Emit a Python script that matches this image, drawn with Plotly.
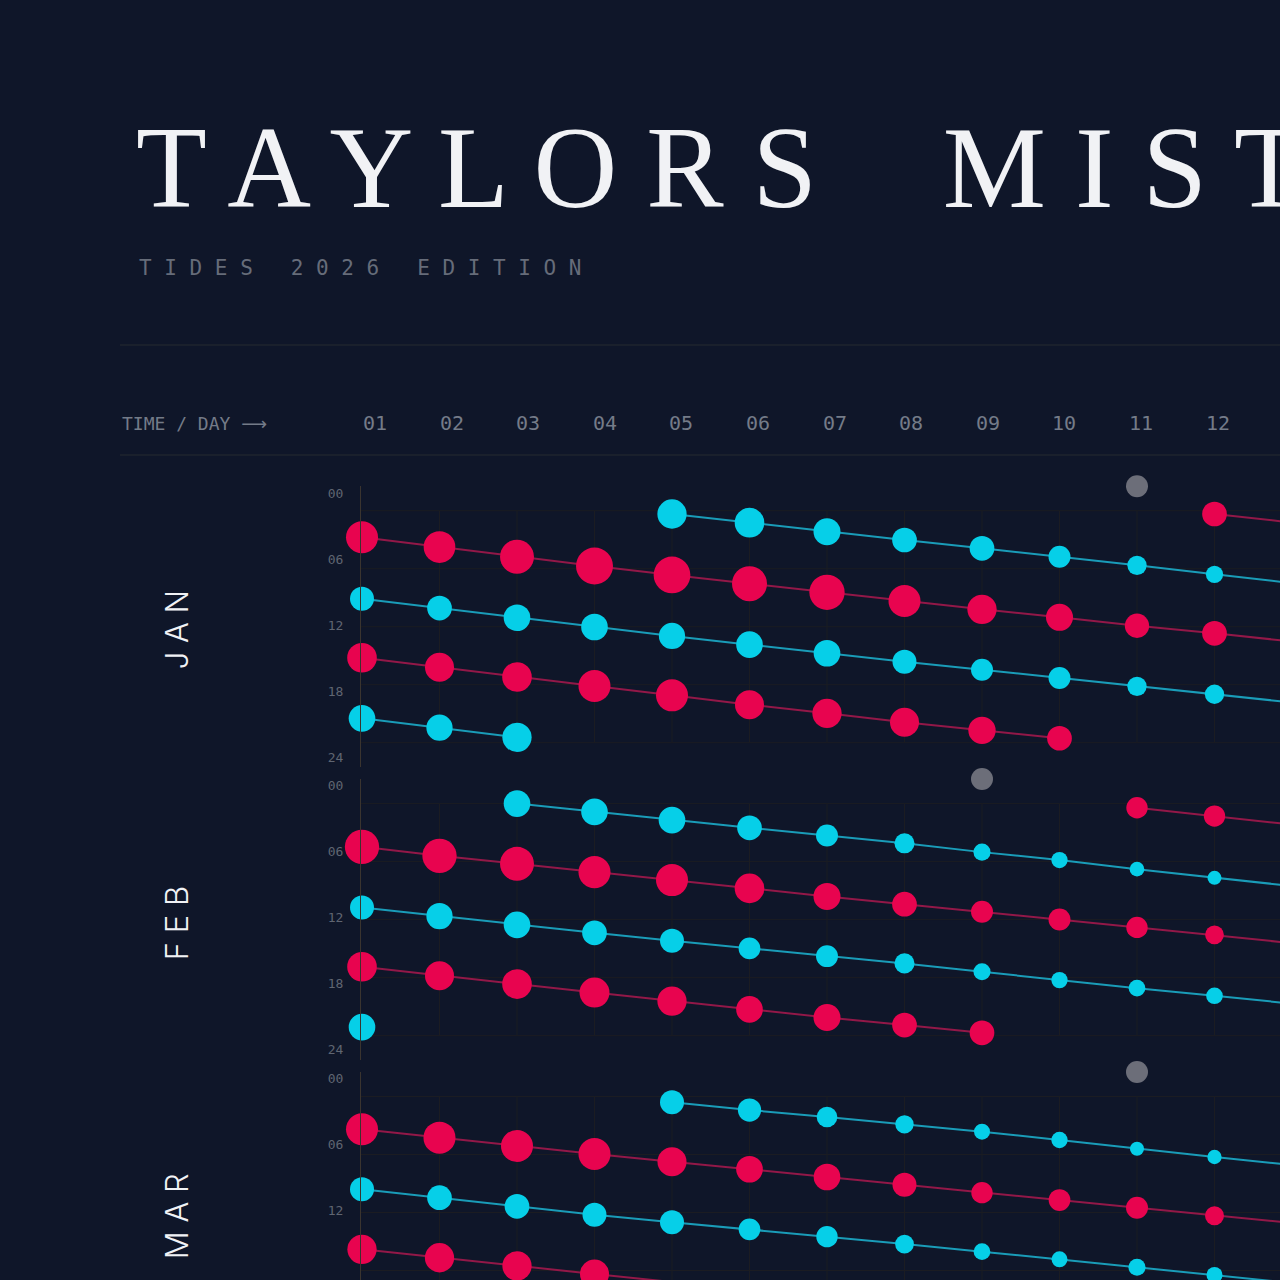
import plotly.graph_objects as go

# ---------------------------------------------------------------- data
MONTHS = ["JAN", "FEB", "MAR"]
DAY_LABELS = [f"{d:02d}" for d in range(1, 13)]
HOUR_TICKS = [0, 6, 12, 18, 24]
HOUR_LABELS = ["00", "06", "12", "18", "24"]
MOON_DAY = [11, 9, 11]          # day of the month carrying the moon marker

# tide times are decimal hours of the day, amplitudes in metres (marker size)
# ---- January
JAN_HIGH_A_START = 1
JAN_HIGH_A_TIME = [2.75, 3.76, 4.76, 5.72, 6.65, 7.55, 8.44, 9.34, 10.20, 11.03, 11.90, 12.68, 13.53]
JAN_HIGH_A_AMP = [2.67, 2.64, 2.83, 3.08, 3.06, 2.92, 2.94, 2.67, 2.44, 2.25, 2.03, 2.06, 2.00]
JAN_LOW_B_START = 1
JAN_LOW_B_TIME = [9.10, 10.07, 11.07, 12.03, 12.96, 13.86, 14.75, 15.62, 16.45, 17.31, 18.17, 18.99, 19.84]
JAN_LOW_B_AMP = [2.00, 2.06, 2.22, 2.22, 2.19, 2.22, 2.22, 2.00, 1.83, 1.83, 1.61, 1.61, 1.50]
JAN_HIGH_C_START = 1
JAN_HIGH_C_TIME = [15.21, 16.20, 17.20, 18.13, 19.10, 20.07, 20.96, 21.89, 22.72, 23.54]
JAN_HIGH_C_AMP = [2.47, 2.42, 2.47, 2.67, 2.67, 2.42, 2.44, 2.42, 2.28, 2.06]
JAN_LOW_D_START = 1
JAN_LOW_D_TIME = [21.48, 22.45, 23.44]
JAN_LOW_D_AMP = [2.22, 2.19, 2.44]
JAN_LOW_E_START = 5
JAN_LOW_E_TIME = [0.34, 1.24, 2.17, 3.03, 3.89, 4.76, 5.65, 6.58, 7.48]
JAN_LOW_E_AMP = [2.44, 2.47, 2.25, 2.06, 2.06, 1.83, 1.61, 1.44, 1.33]
JAN_HIGH_F_START = 12
JAN_HIGH_F_TIME = [0.34, 1.22]
JAN_HIGH_F_AMP = [2.06, 2.00]

# ---- February
FEB_HIGH_A_START = 1
FEB_HIGH_A_TIME = [4.47, 5.40, 6.23, 7.09, 7.91, 8.77, 9.60, 10.40, 11.19, 11.98, 12.81, 13.57, 14.43]
FEB_HIGH_A_AMP = [2.86, 2.86, 2.83, 2.67, 2.67, 2.47, 2.25, 2.06, 1.83, 1.83, 1.78, 1.56, 1.56]
FEB_LOW_B_START = 1
FEB_LOW_B_TIME = [10.74, 11.64, 12.54, 13.37, 14.19, 14.98, 15.78, 16.53, 17.40, 18.26, 19.09, 19.88, 20.69]
FEB_LOW_B_AMP = [2.00, 2.19, 2.22, 2.06, 2.00, 1.81, 1.83, 1.67, 1.42, 1.36, 1.39, 1.39, 1.39]
FEB_HIGH_C_START = 1
FEB_HIGH_C_TIME = [16.88, 17.81, 18.67, 19.55, 20.43, 21.29, 22.12, 22.91, 23.71]
FEB_HIGH_C_AMP = [2.47, 2.42, 2.47, 2.50, 2.44, 2.22, 2.25, 2.06, 2.06]
FEB_LOW_D_START = 1
FEB_LOW_D_TIME = [23.12]
FEB_LOW_D_AMP = [2.22]
FEB_LOW_E_START = 3
FEB_LOW_E_TIME = [0.00, 0.85, 1.71, 2.50, 3.29, 4.11, 5.02, 5.84, 6.78, 7.68, 8.53]
FEB_LOW_E_AMP = [2.22, 2.22, 2.22, 2.06, 1.83, 1.67, 1.42, 1.36, 1.22, 1.17, 1.17]
FEB_HIGH_F_START = 11
FEB_HIGH_F_TIME = [0.43, 1.29, 2.17]
FEB_HIGH_F_AMP = [1.78, 1.78, 1.75]

# ---- March
MAR_HIGH_A_START = 1
MAR_HIGH_A_TIME = [3.39, 4.26, 5.12, 5.95, 6.74, 7.53, 8.33, 9.12, 9.95, 10.71, 11.50, 12.33, 13.09]
MAR_HIGH_A_AMP = [2.67, 2.67, 2.67, 2.67, 2.42, 2.22, 2.22, 2.00, 1.78, 1.81, 1.83, 1.58, 1.58]
MAR_LOW_B_START = 1
MAR_LOW_B_TIME = [9.60, 10.47, 11.36, 12.23, 13.01, 13.74, 14.50, 15.26, 16.05, 16.84, 17.67, 18.46, 19.29]
MAR_LOW_B_AMP = [2.00, 2.06, 2.06, 2.00, 2.00, 1.81, 1.78, 1.56, 1.39, 1.33, 1.42, 1.33, 1.33]
MAR_HIGH_C_START = 1
MAR_HIGH_C_TIME = [15.81, 16.68, 17.53, 18.36, 19.19, 20.02]
MAR_HIGH_C_AMP = [2.44, 2.44, 2.44, 2.42, 2.33, 2.25]
MAR_LOW_E_START = 5
MAR_LOW_E_TIME = [0.60, 1.40, 2.12, 2.88, 3.64, 4.50, 5.40, 6.26, 7.09]
MAR_LOW_E_AMP = [2.00, 1.94, 1.72, 1.53, 1.33, 1.36, 1.17, 1.19, 1.17]

SERIES = [
    [("high", JAN_HIGH_A_START, JAN_HIGH_A_TIME, JAN_HIGH_A_AMP),
     ("low", JAN_LOW_B_START, JAN_LOW_B_TIME, JAN_LOW_B_AMP),
     ("high", JAN_HIGH_C_START, JAN_HIGH_C_TIME, JAN_HIGH_C_AMP),
     ("low", JAN_LOW_D_START, JAN_LOW_D_TIME, JAN_LOW_D_AMP),
     ("low", JAN_LOW_E_START, JAN_LOW_E_TIME, JAN_LOW_E_AMP),
     ("high", JAN_HIGH_F_START, JAN_HIGH_F_TIME, JAN_HIGH_F_AMP)],
    [("high", FEB_HIGH_A_START, FEB_HIGH_A_TIME, FEB_HIGH_A_AMP),
     ("low", FEB_LOW_B_START, FEB_LOW_B_TIME, FEB_LOW_B_AMP),
     ("high", FEB_HIGH_C_START, FEB_HIGH_C_TIME, FEB_HIGH_C_AMP),
     ("low", FEB_LOW_D_START, FEB_LOW_D_TIME, FEB_LOW_D_AMP),
     ("low", FEB_LOW_E_START, FEB_LOW_E_TIME, FEB_LOW_E_AMP),
     ("high", FEB_HIGH_F_START, FEB_HIGH_F_TIME, FEB_HIGH_F_AMP)],
    [("high", MAR_HIGH_A_START, MAR_HIGH_A_TIME, MAR_HIGH_A_AMP),
     ("low", MAR_LOW_B_START, MAR_LOW_B_TIME, MAR_LOW_B_AMP),
     ("high", MAR_HIGH_C_START, MAR_HIGH_C_TIME, MAR_HIGH_C_AMP),
     ("low", MAR_LOW_E_START, MAR_LOW_E_TIME, MAR_LOW_E_AMP)],
]

# ---------------------------------------------------------------- style
BG = "#0f1629"
RED = "#e8044f"
CYAN = "#06cfe8"
RED_LINE = "#921848"
CYAN_LINE = "#1a9cb8"
MOON = "#6c6e79"
GRID = "#1b1c22"
AXIS = "#3a342f"
RULE = "#272a31"
MUTED = "#747b88"
SUB = "#666c79"
DIM = "#5f6571"
WHITE = "#f1f2f5"
MONO = "DejaVu Sans Mono, Liberation Mono, monospace"
SERIF = "Liberation Serif, DejaVu Serif, serif"
SANS = "Inter, Noto Sans, sans-serif"

FIG = 1280
PX_DAY = 77.5            # pixels per day column
PX_H = 9.667             # pixels per hour
AXIS_X_PX = 361          # left axis line
PANEL_TOP_PX = 486
PANEL_PITCH_PX = 292.9
PANEL_H_PX = 280.7
TOP_PAD_H = -2.555       # hour value at panel top (panel padding above 00)
SIZE_PER_M = 12          # marker diameter per metre of amplitude

X_START = 1 - (362 - AXIS_X_PX) / PX_DAY
X_END = X_START + (FIG - AXIS_X_PX) / PX_DAY

fig = go.Figure()
shapes = []
annotations = []
layout_axes = {}

for i, month in enumerate(MONTHS):
    n = "" if i == 0 else str(i + 1)
    xa, ya = f"x{n}", f"y{n}"
    top_px = PANEL_TOP_PX + i * PANEL_PITCH_PX
    bot_px = min(top_px + PANEL_H_PX, FIG)
    y_bottom_h = TOP_PAD_H + (bot_px - top_px) / PX_H
    tick_pos = [TOP_PAD_H + (7 + h / 24 * 264) / PX_H for h in HOUR_TICKS]

    layout_axes[f"xaxis{n}"] = dict(
        domain=[AXIS_X_PX / FIG, 1], range=[X_START, X_END], anchor=ya,
        visible=False, fixedrange=True)
    layout_axes[f"yaxis{n}"] = dict(
        domain=[1 - bot_px / FIG, 1 - top_px / FIG], range=[y_bottom_h, TOP_PAD_H],
        anchor=xa, showline=True, linecolor=AXIS, linewidth=1, showgrid=False,
        zeroline=False, tickvals=tick_pos, ticktext=HOUR_LABELS, ticks="",
        ticklabelstandoff=14,
        tickfont=dict(family=MONO, size=13, color=DIM), fixedrange=True)

    # grid
    for h in HOUR_TICKS:
        shapes.append(dict(type="line", xref=f"{xa} domain", x0=0, x1=1, yref=ya, y0=h, y1=h,
                           line=dict(color=GRID, width=1), layer="below"))
    for d in range(2, 14):
        shapes.append(dict(type="line", xref=xa, x0=d, x1=d, yref=ya, y0=0, y1=24,
                           line=dict(color=GRID, width=1), layer="below"))

    # tide series
    for kind, start, times, amps in SERIES[i]:
        days = list(range(start, start + len(times)))
        fig.add_trace(go.Scatter(
            x=days, y=times, xaxis=xa, yaxis=ya, mode="lines+markers",
            line=dict(color=RED_LINE if kind == "high" else CYAN_LINE, width=2),
            marker=dict(size=[a * SIZE_PER_M for a in amps], opacity=1,
                        color=RED if kind == "high" else CYAN, line=dict(width=0)),
            cliponaxis=False, showlegend=False, hoverinfo="x+y", name=f"{month} {kind}"))

    # moon marker sits on the panel top edge
    fig.add_trace(go.Scatter(
        x=[MOON_DAY[i]], y=[TOP_PAD_H + 0.02], xaxis=xa, yaxis=ya, mode="markers",
        marker=dict(size=22, color=MOON, opacity=1, line=dict(width=0)), cliponaxis=False,
        showlegend=False, hoverinfo="skip"))

    # month label
    annotations.append(dict(
        text=" ".join(month), xref="paper", yref="paper", x=176 / FIG,
        y=1 - (top_px + PANEL_H_PX / 2 + 4) / FIG, textangle=-90, showarrow=False,
        xanchor="center", yanchor="middle",
        font=dict(family=SANS, size=31, color=WHITE, weight=300)))

# header texts
annotations.append(dict(
    text="T A Y L O R S\u2003\u200aM I S T A K E", xref="paper", yref="paper",
    x=134 / FIG, y=1 - 168 / FIG, xanchor="left", yanchor="middle", showarrow=False,
    font=dict(family=SERIF, size=116, color=WHITE)))
annotations.append(dict(
    text="T I D E S\u00a0\u00a0\u00a02 0 2 6\u00a0\u00a0\u00a0E D I T I O N", xref="paper", yref="paper",
    x=137 / FIG, y=1 - 268 / FIG, xanchor="left", yanchor="middle", showarrow=False,
    font=dict(family=MONO, size=21, color=SUB)))
annotations.append(dict(
    text="TIME / DAY <span style='font-family:DejaVu Sans'>\u27f6</span>", xref="paper", yref="paper",
    x=120 / FIG, y=1 - 423 / FIG, xanchor="left", yanchor="middle", showarrow=False,
    font=dict(family=MONO, size=18, color=MUTED)))
for k, lab in enumerate(DAY_LABELS):
    annotations.append(dict(
        text=lab, xref="paper", yref="paper", x=(375 + k * 76.6) / FIG, y=1 - 423 / FIG,
        xanchor="center", yanchor="middle", showarrow=False,
        font=dict(family=MONO, size=20, color=MUTED)))

for ypx in (345, 455):
    shapes.append(dict(type="line", xref="paper", yref="paper", x0=120 / FIG, x1=1,
                       y0=1 - ypx / FIG, y1=1 - ypx / FIG, line=dict(color=RULE, width=1)))

fig.update_layout(
    width=FIG, height=FIG, margin=dict(l=0, r=0, t=0, b=0),
    paper_bgcolor=BG, plot_bgcolor=BG, showlegend=False,
    shapes=shapes, annotations=annotations, hovermode="closest",
    **layout_axes)

PAGE_CSS = (
    "var h=document.documentElement,b=document.body;"
    "h.style.margin='0';h.style.overflow='hidden';"
    "b.style.margin='0';b.style.overflow='hidden';"
    "b.style.background='" + BG + "';window.scrollTo(0,0);"
)

fig.write_html("out.html", config={"displayModeBar": False}, post_script=PAGE_CSS)
